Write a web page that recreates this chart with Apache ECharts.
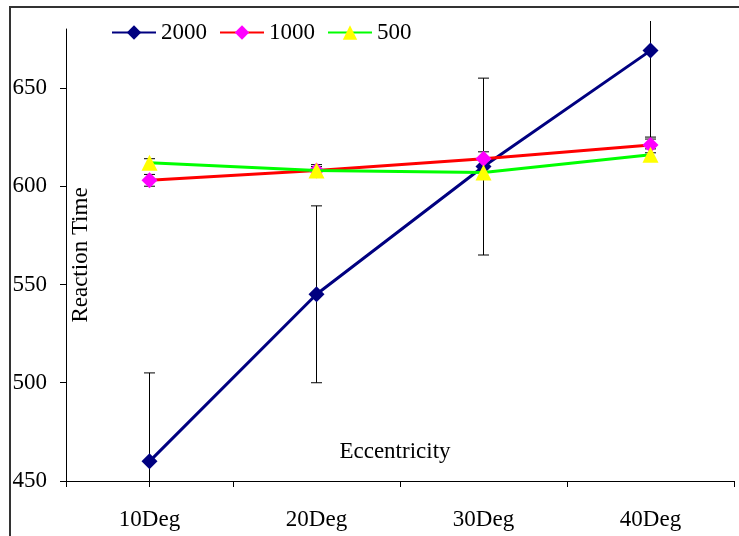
<!DOCTYPE html>
<html>
<head>
<meta charset="utf-8">
<script src="https://cdn.jsdelivr.net/npm/echarts@6/dist/echarts.min.js"></script>
<style>
  html, body { margin: 0; padding: 0; background: #fff; }
  #chart { width: 739px; height: 536px; }
</style>
</head>
<body>
<div id="chart"></div>
<script>
// Eccentricity categories and mean reaction times per set size
const categories = ['10Deg', '20Deg', '30Deg', '40Deg'];
const rt2000 = [460, 545, 610, 669];
const err2000 = [45, 45, 45, 45];
const rt1000 = [603, 608, 614, 621];
const err1000 = [3, 3, 3.5, 4];
const rt500 = [612, 608, 607, 616];
const err500 = [2, 2, 3, 3];
const yTicks = [450, 500, 550, 600, 650];

const FONT = 'Liberation Serif';
const FS = 23;

// [categoryIndex, low, high] rows for the error bars
function errRows(means, errs) {
  return means.map((m, i) => [i, m - errs[i], m + errs[i]]);
}

function renderErrorBar(params, api) {
  const cs = params.coordSys;
  const p1 = api.coord([api.value(0), api.value(1)]);
  const p2 = api.coord([api.value(0), api.value(2)]);
  const x = p1[0];
  const topLimit = cs.y - 8;
  const bottomLimit = cs.y + cs.height + 6;
  const yLo = Math.min(p1[1], bottomLimit);
  const yHi = Math.max(p2[1], topLimit);
  const half = 5.5;
  const style = { stroke: '#000', lineWidth: 1 };
  const children = [
    { type: 'line', shape: { x1: x, y1: yHi, x2: x, y2: yLo }, style: style }
  ];
  if (p1[1] <= bottomLimit) {
    children.push({ type: 'line', shape: { x1: x - half, y1: yLo, x2: x + half, y2: yLo }, style: style });
  }
  if (p2[1] >= topLimit) {
    children.push({ type: 'line', shape: { x1: x - half, y1: yHi, x2: x + half, y2: yHi }, style: style });
  }
  return { type: 'group', children: children };
}

function errSeries(means, errs) {
  return {
    type: 'custom',
    renderItem: renderErrorBar,
    data: errRows(means, errs),
    encode: { x: 0, y: [1, 2] },
    clip: false,
    silent: true,
    z: 1
  };
}

const chart = echarts.init(document.getElementById('chart'), null, { renderer: 'canvas' });

chart.setOption({
  animation: false,
  backgroundColor: '#fff',
  textStyle: { fontFamily: FONT },
  graphic: [
    {
      type: 'rect',
      z: 0,
      shape: { x: 10, y: 7, width: 780, height: 580 },
      style: { fill: 'none', stroke: '#333', lineWidth: 2 }
    }
  ],
  legend: {
    left: 106,
    top: 16,
    itemWidth: 44,
    itemHeight: 18,
    itemGap: 12,
    textStyle: { fontFamily: FONT, fontSize: FS, color: '#000' },
    data: ['2000', '1000', '500']
  },
  grid: { left: 66, right: 5, top: 29, bottom: 55, containLabel: false, outerBoundsMode: 'none' },
  xAxis: {
    type: 'category',
    data: categories,
    boundaryGap: true,
    name: 'Eccentricity',
    nameLocation: 'middle',
    nameGap: -41,
    nameMoveOverlap: false,
    nameTextStyle: { fontFamily: FONT, fontSize: FS, color: '#000', padding: [0, 10, 0, 0] },
    axisLine: { lineStyle: { color: '#000', width: 1 } },
    axisTick: { show: true, length: 6, alignWithLabel: false, lineStyle: { color: '#000' } },
    axisLabel: { fontFamily: FONT, fontSize: FS, color: '#000', margin: 27 },
    splitLine: { show: false }
  },
  yAxis: {
    type: 'value',
    min: 450,
    max: 680,
    interval: 50,
    name: 'Reaction Time',
    nameLocation: 'middle',
    nameRotate: 90,
    nameGap: -26,
    nameMoveOverlap: false,
    nameTextStyle: { fontFamily: FONT, fontSize: FS, color: '#000' },
    axisLine: { show: true, lineStyle: { color: '#000', width: 1 } },
    axisTick: { show: true, length: 6, customValues: yTicks, lineStyle: { color: '#000' } },
    axisLabel: { fontFamily: FONT, fontSize: FS, color: '#000', margin: 19, customValues: yTicks },
    splitLine: { show: false }
  },
  series: [
    errSeries(rt2000, err2000),
    errSeries(rt1000, err1000),
    errSeries(rt500, err500),
    {
      name: '2000',
      type: 'line',
      data: rt2000,
      symbol: 'diamond',
      symbolSize: 16,
      lineStyle: { color: '#000080', width: 3 },
      itemStyle: { color: '#000080' },
      z: 2
    },
    {
      name: '1000',
      type: 'line',
      data: rt1000,
      symbol: 'diamond',
      symbolSize: 16,
      lineStyle: { color: '#ff0000', width: 3 },
      itemStyle: { color: '#ff00ff' },
      z: 3
    },
    {
      name: '500',
      type: 'line',
      data: rt500,
      symbol: 'triangle',
      symbolSize: 16,
      lineStyle: { color: '#00ff00', width: 3 },
      itemStyle: { color: '#ffff00' },
      z: 4
    }
  ]
});
</script>
</body>
</html>
